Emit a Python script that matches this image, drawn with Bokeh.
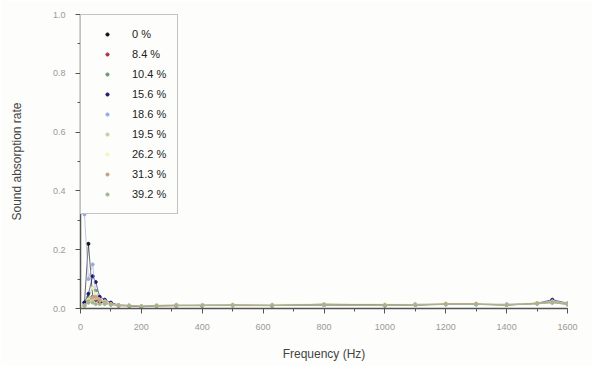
from bokeh.plotting import figure
from bokeh.models import Range1d, Legend, LegendItem, FixedTicker
from bokeh.embed import file_html
from bokeh.resources import INLINE

freq = [13, 26, 40, 50, 63, 80, 100, 125, 160, 200, 250, 315, 400, 500, 630, 800, 1000, 1100, 1200, 1300, 1400, 1500, 1550, 1600]

labels = ["0 %", "8.4 %", "10.4 %", "15.6 %", "18.6 %", "19.5 %", "26.2 %", "31.3 %", "39.2 %"]
colors = ["#111111", "#b03040", "#6a9a6a", "#1a1a70", "#9aa8e0", "#c8d0a0", "#f4f4c0", "#c8a080", "#a0b890"]

s_0 = [0.02, 0.22, 0.04, 0.03, 0.02, 0.02, 0.015, 0.01, 0.01, 0.008, 0.01, 0.01, 0.012, 0.012, 0.01, 0.015, 0.012, 0.012, 0.015, 0.015, 0.012, 0.018, 0.025, 0.015]
s_84 = [0.01, 0.03, 0.035, 0.03, 0.025, 0.02, 0.015, 0.01, 0.008, 0.006, 0.008, 0.01, 0.01, 0.012, 0.01, 0.012, 0.01, 0.012, 0.014, 0.014, 0.012, 0.016, 0.02, 0.014]
s_104 = [0.01, 0.04, 0.07, 0.06, 0.03, 0.02, 0.015, 0.012, 0.01, 0.008, 0.01, 0.012, 0.01, 0.012, 0.012, 0.014, 0.012, 0.012, 0.016, 0.016, 0.012, 0.018, 0.022, 0.016]
s_156 = [0.02, 0.05, 0.11, 0.09, 0.04, 0.03, 0.02, 0.012, 0.01, 0.008, 0.01, 0.01, 0.01, 0.012, 0.01, 0.012, 0.01, 0.014, 0.015, 0.015, 0.014, 0.018, 0.03, 0.018]
s_186 = [0.32, 0.10, 0.15, 0.05, 0.03, 0.02, 0.015, 0.012, 0.01, 0.008, 0.01, 0.01, 0.012, 0.01, 0.01, 0.012, 0.01, 0.012, 0.014, 0.014, 0.012, 0.016, 0.024, 0.014]
s_195 = [0.01, 0.02, 0.03, 0.035, 0.03, 0.025, 0.015, 0.012, 0.01, 0.008, 0.008, 0.01, 0.01, 0.01, 0.01, 0.012, 0.01, 0.012, 0.014, 0.014, 0.012, 0.016, 0.02, 0.014]
s_262 = [0.01, 0.03, 0.07, 0.05, 0.03, 0.02, 0.015, 0.012, 0.012, 0.01, 0.012, 0.014, 0.012, 0.014, 0.014, 0.016, 0.016, 0.014, 0.018, 0.018, 0.014, 0.02, 0.024, 0.018]
s_313 = [0.01, 0.025, 0.04, 0.04, 0.03, 0.02, 0.015, 0.012, 0.01, 0.008, 0.01, 0.012, 0.01, 0.012, 0.012, 0.014, 0.012, 0.012, 0.016, 0.016, 0.012, 0.018, 0.022, 0.016]
s_392 = [0.01, 0.02, 0.02, 0.015, 0.015, 0.015, 0.012, 0.01, 0.01, 0.008, 0.008, 0.01, 0.01, 0.01, 0.01, 0.012, 0.01, 0.012, 0.014, 0.014, 0.012, 0.016, 0.02, 0.014]

series = [s_0, s_84, s_104, s_156, s_186, s_195, s_262, s_313, s_392]

p = figure(width=592, height=365, output_backend="svg", toolbar_location=None,
           x_range=Range1d(0, 1600), y_range=Range1d(0, 1.0),
           min_border_left=80, min_border_right=25, min_border_top=14, min_border_bottom=57)
p.outline_line_color = None
p.grid.visible = False
p.background_fill_color = "#fdfdfb"
p.border_fill_color = "#fdfdfb"

items = []
for lab, col, ys in zip(labels, colors, series):
    p.line(freq, ys, line_color=col, line_width=0.9, line_alpha=0.7)
    r = p.scatter(freq, ys, size=3, marker="circle", fill_color=col, line_color=col)
    items.append(LegendItem(label=lab, renderers=[r]))

legend = Legend(items=items)
legend.location = "top_left"
legend.margin = 0
legend.label_text_font = "Liberation Sans"
legend.label_text_font_size = "11px"
legend.label_text_color = "#222222"
legend.border_line_color = "#888888"
legend.border_line_width = 1
legend.background_fill_alpha = 1
legend.background_fill_color = "#fdfdfb"
legend.label_height = 16
legend.glyph_height = 8
legend.glyph_width = 30
legend.spacing = 4
legend.padding = 11
legend.label_standoff = 10
p.add_layout(legend, "center")

for ax in [p.xaxis[0], p.yaxis[0]]:
    ax.axis_line_color = "#555555"
    ax.axis_line_width = 1.5
    ax.major_tick_line_color = "#555555"
    ax.minor_tick_line_color = "#555555"
    ax.major_tick_out = 5
    ax.major_tick_in = 0
    ax.minor_tick_out = 3
    ax.minor_tick_in = 0
    ax.major_label_text_font = "Liberation Sans"
    ax.major_label_text_font_size = "9px"
    ax.major_label_text_color = "#999999"
    ax.major_label_standoff = 10
    ax.axis_label_text_font = "Liberation Sans"
    ax.axis_label_text_font_size = "12px"
    ax.axis_label_text_font_style = "normal"
    ax.axis_label_text_color = "#444444"

p.xaxis.ticker = FixedTicker(ticks=list(range(0, 1601, 200)), minor_ticks=list(range(0, 1601, 100)))
p.yaxis.ticker = FixedTicker(ticks=[0, 0.2, 0.4, 0.6, 0.8, 1.0], minor_ticks=[i / 10 for i in range(11)])
p.yaxis.major_label_overrides = {0: "0.0", 0.2: "0.2", 0.4: "0.4", 0.6: "0.6", 0.8: "0.8", 1.0: "1.0"}
p.xaxis.axis_label = "Frequency (Hz)"
p.yaxis.axis_label = "Sound absorption rate"
p.xaxis.axis_label_standoff = 14
p.yaxis.axis_label_standoff = 26

open("out.html", "w").write(file_html(p, INLINE))
